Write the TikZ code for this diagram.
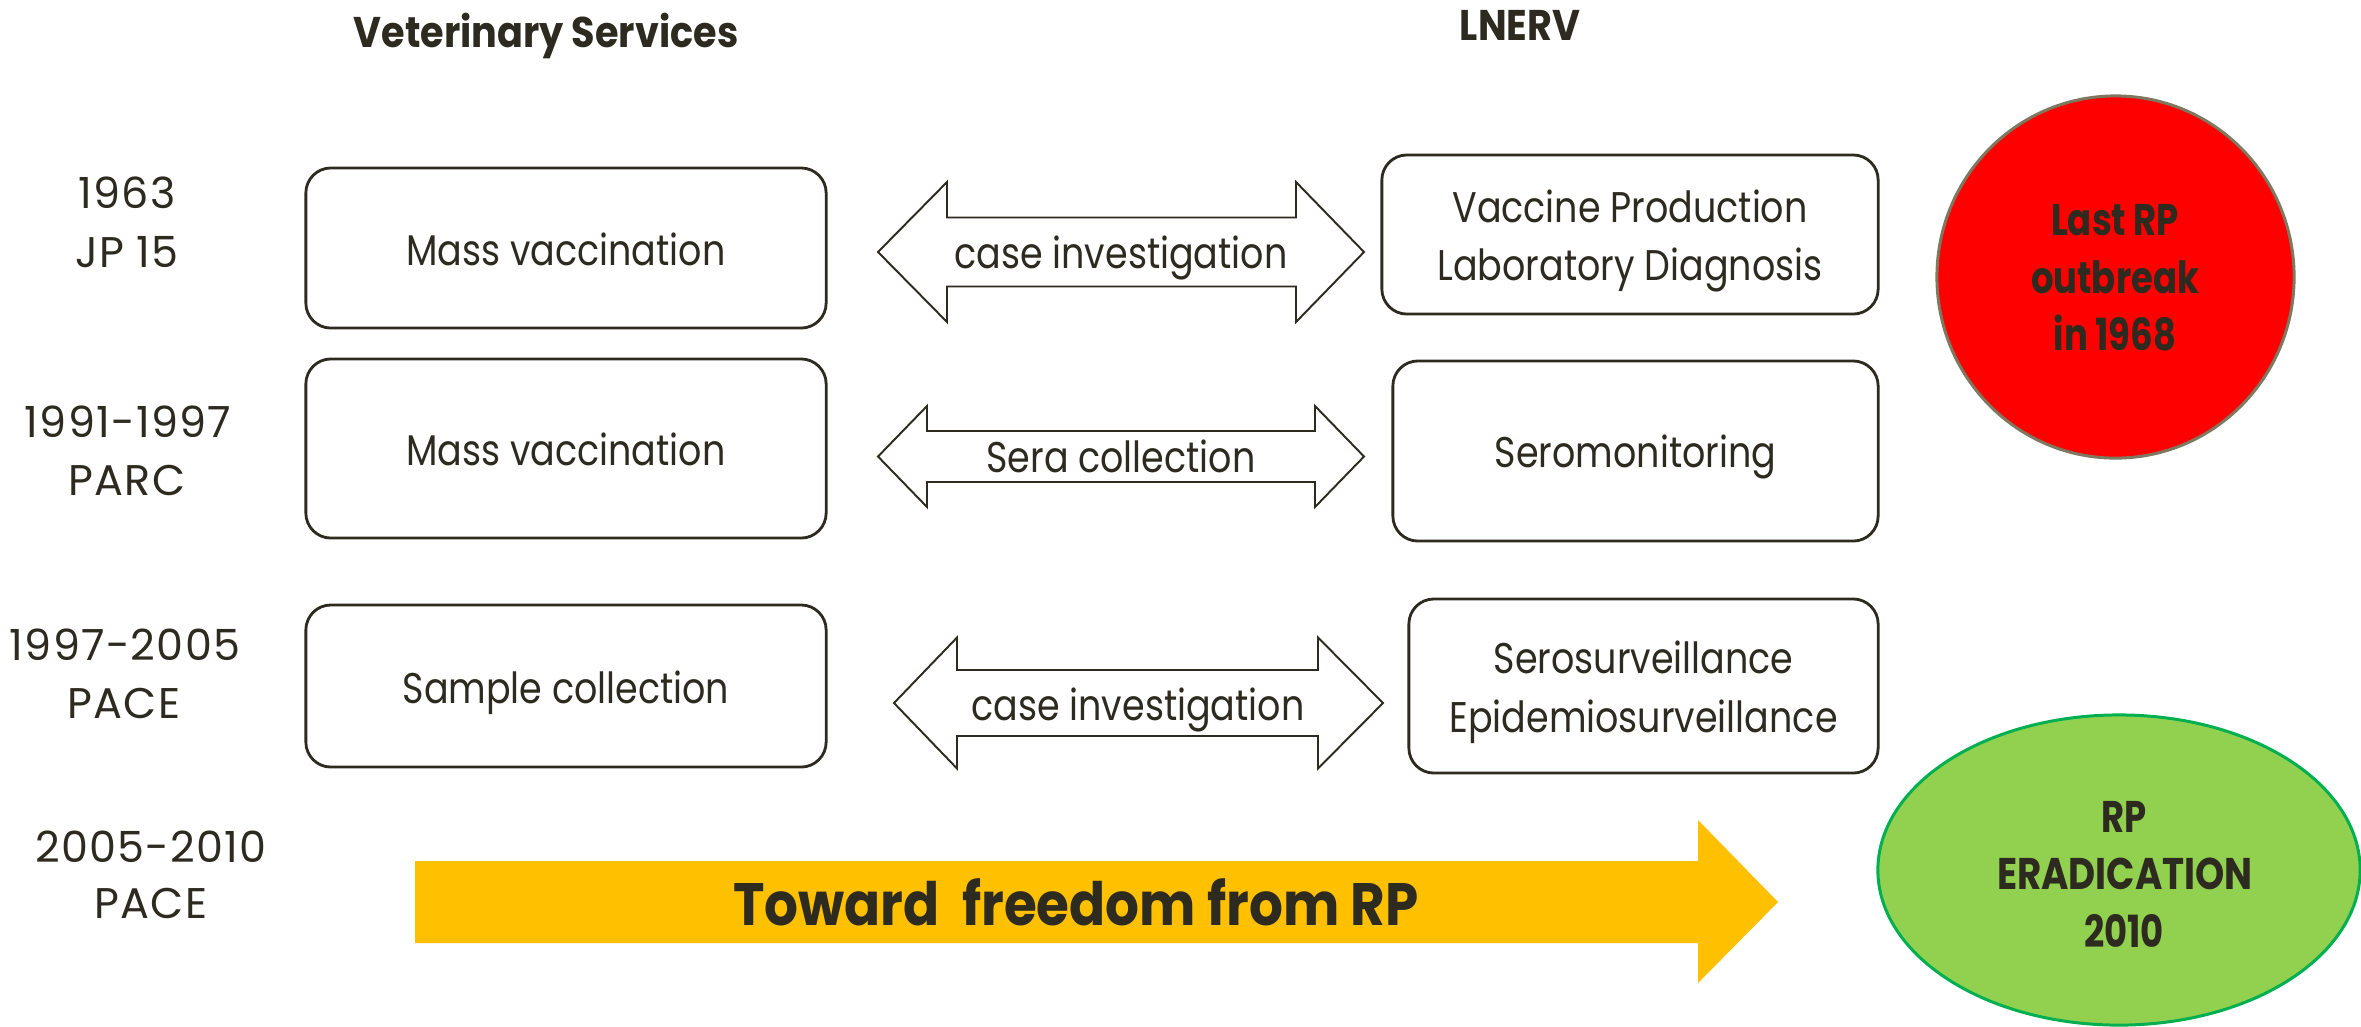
\documentclass[tikz,border=0pt]{standalone}
\usepackage{fontspec}
\setmainfont[FakeStretch=0.85]{Poppins}
\newfontfamily\yearfam[FakeStretch=1.0,LetterSpace=3]{Poppins}
\newfontfamily\boldfam[FakeStretch=0.89]{Poppins}
\newfontfamily\circfam[FakeStretch=0.8]{Poppins}
\newfontfamily\capsfam[FakeStretch=0.84]{Poppins}
\usetikzlibrary{shapes.geometric}
\definecolor{ink}{RGB}{45,42,32}
\definecolor{rpred}{RGB}{255,0,0}
\definecolor{rpredline}{RGB}{125,120,95}
\definecolor{rpgreen}{RGB}{146,208,80}
\definecolor{rpgreenline}{RGB}{0,176,80}
\definecolor{rpyellow}{RGB}{255,192,0}
\newcommand\regfont{\fontsize{12.2}{16.5}\selectfont}
\newcommand\yearfont{\yearfam\fontsize{12.2}{16.5}\selectfont}
\newcommand\headfont{\boldfam\fontsize{12.2}{16.5}\selectfont\bfseries}
\newcommand\circfont{\circfam\fontsize{12.6}{16.5}\selectfont\bfseries}
\newcommand\capsfont{\capsfam\fontsize{12.6}{16.5}\selectfont\bfseries}
\newcommand\bigbold{\boldfam\fontsize{17}{20}\selectfont\bfseries}
\begin{document}
\begin{tikzpicture}[x=0.01cm,y=-0.01cm,
  every node/.style={text=ink, inner sep=0pt},
  yearlbl/.style={anchor=base, font=\yearfont},
  headlbl/.style={anchor=base, font=\headfont},
  stagebox/.style={draw=ink, line width=0.8pt, rounded corners=0.25cm, fill=white},
  boxtext/.style={anchor=base, font=\regfont},
  dblarrow/.style={draw=ink, line width=0.55pt, fill=white, line join=miter},
  arrowlbl/.style={anchor=base, font=\regfont},
  goal/.style={ellipse, line width=0.85pt},
  goaltext/.style={anchor=base, font=\circfont}
]
\useasboundingbox (0,0) rectangle (2361,1026);

% column headings
\node[headlbl] (hvs) at (546,47) {Veterinary Services};
\node[headlbl] (hlab) at (1520,40) {LNERV};

% period labels
\node[yearlbl] (y1a) at (127,208) {1963};
\node[yearlbl] (y1b) at (127,267) {JP 15};
\node[yearlbl] (y2a) at (128,437) {1991-1997};
\node[yearlbl] (y2b) at (127,495) {PARC};
\node[yearlbl] (y3a) at (125,660) {1997-2005};
\node[yearlbl] (y3b) at (124,718) {PACE};
\node[yearlbl] (y4a) at (151,862) {2005-2010};
\node[yearlbl] (y4b) at (151,918) {PACE};

% veterinary services boxes
\node[stagebox, minimum width=5.2cm, minimum height=1.6cm] (a1) at (566,248) {};
\node[boxtext] (a1t) at (566,265) {Mass vaccination};
\node[stagebox, minimum width=5.2cm, minimum height=1.79cm] (a2) at (566,448.5) {};
\node[boxtext] (a2t) at (566,465) {Mass vaccination};
\node[stagebox, minimum width=5.2cm, minimum height=1.62cm] (a3) at (566,686) {};
\node[boxtext] (a3t) at (566,703) {Sample collection};

% LNERV boxes
\node[stagebox, minimum width=4.96cm, minimum height=1.59cm] (b1) at (1630,234.5) {};
\node[boxtext] (b1t) at (1630,222) {Vaccine Production};
\node[boxtext] (b1u) at (1630,280) {Laboratory Diagnosis};
\node[stagebox, minimum width=4.85cm, minimum height=1.8cm] (b2) at (1635.5,451) {};
\node[boxtext] (b2t) at (1635.5,467) {Seromonitoring};
\node[stagebox, minimum width=4.69cm, minimum height=1.74cm] (b3) at (1643.5,686) {};
\node[boxtext] (b3t) at (1643.5,673) {Serosurveillance};
\node[boxtext] (b3u) at (1643.5,732) {Epidemiosurveillance};

% double arrows between the columns
\draw[dblarrow] (878,252) -- (947,182) -- (947,217.5) -- (1296,217.5) -- (1296,182) -- (1364,252)
  -- (1296,322) -- (1296,286.5) -- (947,286.5) -- (947,322) -- cycle;
\node[arrowlbl] (l1) at (1121,268) {case investigation};

\draw[dblarrow] (878,456.5) -- (927,406) -- (927,431) -- (1315,431) -- (1315,406) -- (1364,456.5)
  -- (1315,507) -- (1315,482) -- (927,482) -- (927,507) -- cycle;
\node[arrowlbl] (l2) at (1121,472) {Sera collection};

\draw[dblarrow] (894,703) -- (957,637.5) -- (957,670) -- (1318,670) -- (1318,637.5) -- (1383,703)
  -- (1318,768.5) -- (1318,736) -- (957,736) -- (957,768.5) -- cycle;
\node[arrowlbl] (l3) at (1138,720) {case investigation};

% big yellow arrow
\fill[rpyellow] (415,861) -- (1698,861) -- (1698,820) -- (1778,902) -- (1698,983) -- (1698,943) -- (415,943) -- cycle;
\node[anchor=base, font=\bigbold] (toward) at (1076,925) {Toward~ freedom from RP};

% outcome ellipses
\node[goal, draw=rpredline, fill=rpred, minimum width=3.57cm, minimum height=3.62cm] (last) at (2115.5,277) {};
\node[goaltext] (last1) at (2115,235) {Last RP};
\node[goaltext] (last2) at (2115,293) {outbreak};
\node[goaltext] (last3) at (2115,350) {in 1968};
\node[goal, draw=rpgreenline, fill=rpgreen, minimum width=4.82cm, minimum height=3.1cm] (erad) at (2119,870) {};
\node[goaltext] (erad1) at (2124,832) {RP};
\node[goaltext, font=\capsfont] (erad2) at (2125,889) {ERADICATION};
\node[goaltext] (erad3) at (2124,947) {2010};
\end{tikzpicture}
\end{document}
